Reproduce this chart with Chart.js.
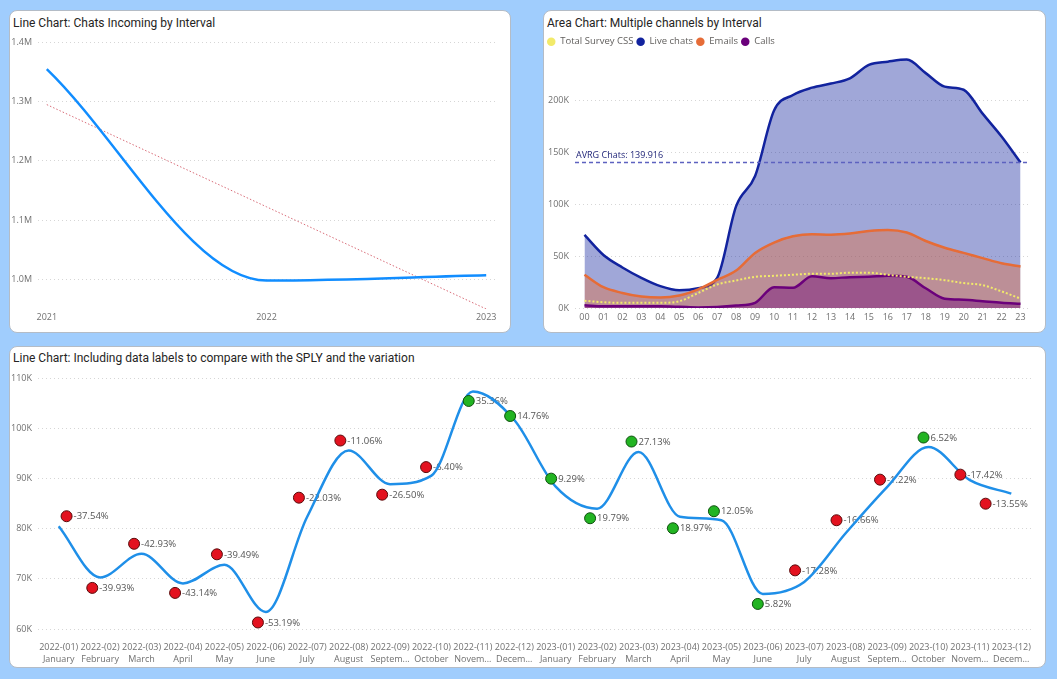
<!DOCTYPE html>
<html>
<head>
<meta charset="utf-8">
<title>Chats - painel</title>
<script src="https://cdn.jsdelivr.net/npm/chart.js@4.4.0/dist/chart.umd.min.js"></script>
<style>
  body { margin:0; background:#a0cdfd; width:1057px; height:679px; overflow:hidden; }
  .painel { position:absolute; background:#fff; border:1px solid #b4bcc6; border-radius:8px; box-sizing:border-box; }
  .titulo { position:absolute; left:3px; top:5px; font-family:Roboto, "DejaVu Sans", sans-serif; font-size:12px; color:#252423; white-space:nowrap; }
  .caixa { position:absolute; left:0; top:20px; }
</style>
</head>
<body>

<div class="painel" style="left:9px;top:10px;width:502px;height:323px;">
  <div class="titulo">Line Chart: Chats Incoming by Interval</div>
  <div class="caixa" style="width:500px;height:300px;"><canvas id="graf1"></canvas></div>
</div>

<div class="painel" style="left:543px;top:10px;width:503px;height:323px;">
  <div class="titulo">Area Chart: Multiple channels by Interval</div>
  <div class="caixa" style="width:501px;height:300px;"><canvas id="graf2"></canvas></div>
</div>

<div class="painel" style="left:9px;top:346px;width:1037px;height:322px;">
  <div class="titulo" style="top:4px">Line Chart: Including data labels to compare with the SPLY and the variation</div>
  <div class="caixa" style="width:1035px;height:300px;"><canvas id="graf3"></canvas></div>
</div>

<script>
// ---- dados grafico 1 (por ano)
var anos = [2021, 2022, 2023];
var chatsAno = [1355000, 998000, 1007000];
var tendencia = [1295000, 1122500, 950000];
var ticksAno = [1000000, 1100000, 1200000, 1300000, 1400000];

// ---- dados grafico 2 (por hora)
var horas = ['00','01','02','03','04','05','06','07','08','09','10','11','12','13','14','15','16','17','18','19','20','21','22','23'];
var surveyCSS = [7000, 5500, 5000, 5000, 5000, 6500, 14500, 22600, 26500, 30000, 31000, 32000, 33000, 33000, 34000, 34000, 32000, 30000, 28700, 26800, 24000, 22000, 16000, 9000];
var liveChats = [70300, 51000, 39000, 29000, 21000, 17000, 19000, 29000, 98000, 127000, 190000, 205000, 212000, 216000, 221000, 234000, 237000, 239000, 226000, 213000, 210000, 187000, 165000, 140000];
var emails = [32000, 20000, 14500, 11000, 10000, 12000, 18000, 27000, 36000, 53000, 63000, 69000, 71000, 70600, 71600, 74000, 75000, 72600, 64500, 58000, 53000, 48000, 43000, 40000];
var calls = [2600, 1600, 1600, 1600, 1600, 1200, 600, 1000, 2300, 5000, 20000, 19400, 30600, 28700, 29700, 30000, 31000, 30000, 19000, 9000, 8000, 6500, 5000, 4000];
var mediaChats = 139916;
var ticksHora = [0, 50000, 100000, 150000, 200000];

// ---- dados grafico 3 (por mes)
var periodos = ['2022-(01)','2022-(02)','2022-(03)','2022-(04)','2022-(05)','2022-(06)','2022-(07)','2022-(08)','2022-(09)','2022-(10)','2022-(11)','2022-(12)',
                '2023-(01)','2023-(02)','2023-(03)','2023-(04)','2023-(05)','2023-(06)','2023-(07)','2023-(08)','2023-(09)','2023-(10)','2023-(11)','2023-(12)'];
var meses = ['January','February','March','April','May','June','July','August','Septem...','October','Novem...','Decem...',
             'January','February','March','April','May','June','July','August','Septem...','October','Novem...','Decem...'];
var chatsMes = [80500, 70300, 75000, 69100, 72800, 63400, 82400, 95600, 88900, 90600, 107400, 101700, 88400, 84000, 95300, 82400, 81700, 67000, 69400, 79100, 88300, 96300, 89700, 87000];
var sply = [82500, 68200, 77000, 67200, 74900, 61300, 86200, 97600, 86800, 92300, 105500, 102500, 90000, 82100, 97400, 80100, 83500, 65000, 71700, 81700, 89800, 98200, 90800, 85000];
var variacao = [-37.54, -39.93, -42.93, -43.14, -39.49, -53.19, -22.03, -11.06, -26.50, -6.40, 35.36, 14.76, 9.29, 19.79, 27.13, 18.97, 12.05, 5.82, -17.28, -16.66, -1.22, 6.52, -17.42, -13.55];
// posicao dos marcadores (em meses) - o visual de cima nao bate certinho com as categorias
var posMarcador = [0.19, 0.81, 1.82, 2.81, 3.82, 4.81, 5.80, 6.80, 7.81, 8.87, 9.90, 10.90, 11.89, 12.83, 13.83, 14.83, 15.82, 16.88, 17.78, 18.78, 19.83, 20.88, 21.77, 22.38];
var ticksMes = [60000, 70000, 80000, 90000, 100000, 110000];

var fonte = "'Segoe UI', 'Open Sans', sans-serif";
Chart.defaults.font.family = fonte;
Chart.defaults.font.size = 9;
Chart.defaults.color = '#707070';
Chart.defaults.animation = false;

function formataMil(v){
  return Math.round(v).toString().replace(/\B(?=(\d{3})+(?!\d))/g, '.');
}

function eixoY(lista, min, max, largura, fmt){
  return {
    min: min, max: max,
    grid: { color: '#d6d6d6', drawTicks: false, lineWidth: 1 },
    border: { display: false, dash: [1, 3] },
    afterBuildTicks: function(ax){ ax.ticks = lista.map(function(v){ return {value: v}; }); },
    afterFit: function(ax){ ax.width = largura; },
    ticks: { padding: 6, callback: fmt }
  };
}

// ---------- grafico 1
new Chart(document.getElementById('graf1'), {
  type: 'line',
  data: {
    datasets: [{
      label: 'Chats',
      data: anos.map(function(a, i){ return {x: a, y: chatsAno[i]}; }),
      borderColor: '#118DFF', borderWidth: 2.5, pointRadius: 0,
      cubicInterpolationMode: 'monotone', order: 0
    }, {
      label: 'Tendencia',
      data: anos.map(function(a, i){ return {x: a, y: tendencia[i]}; }),
      borderColor: '#d86c78', borderWidth: 1, borderDash: [1.5, 2], pointRadius: 0, order: 1
    }]
  },
  options: {
    responsive: true, maintainAspectRatio: false,
    layout: { padding: { left: 0, top: 8, right: 15, bottom: 0 } },
    plugins: { legend: { display: false }, tooltip: { enabled: false } },
    scales: {
      x: {
        type: 'linear', min: 2020.96, max: 2023.04,
        grid: { display: false, drawTicks: false }, border: { display: false },
        afterBuildTicks: function(ax){ ax.ticks = anos.map(function(v){ return {value: v}; }); },
        afterFit: function(ax){ ax.height = 22; },
        ticks: { padding: 3, maxRotation: 0, callback: function(v){ return String(v); } }
      },
      y: eixoY(ticksAno, 950000, 1400000, 28, function(v){ return (v / 1000000).toFixed(1) + 'M'; })
    }
  }
});

// ---------- grafico 2
var linhaMedia = {
  id: 'linhaMedia',
  afterDatasetsDraw: function(chart){
    var ctx = chart.ctx, area = chart.chartArea;
    var y = chart.scales.y.getPixelForValue(mediaChats);
    ctx.save();
    ctx.strokeStyle = '#5d62c0';
    ctx.lineWidth = 1.5;
    ctx.setLineDash([4, 3]);
    ctx.beginPath(); ctx.moveTo(area.left, y); ctx.lineTo(area.right, y); ctx.stroke();
    ctx.fillStyle = '#23287a';
    ctx.font = '9px ' + fonte;
    ctx.textBaseline = 'bottom';
    ctx.fillText('AVRG Chats: ' + formataMil(mediaChats), area.left + 1, y - 3);
    ctx.restore();
  }
};

function serieArea(nome, valores, cor, fundo, ordem){
  return {
    label: nome, data: valores, borderColor: cor, backgroundColor: fundo,
    fill: 'origin', borderWidth: 2.5, pointRadius: 0,
    cubicInterpolationMode: 'monotone', order: ordem
  };
}

new Chart(document.getElementById('graf2'), {
  type: 'line',
  data: {
    labels: horas,
    datasets: [
      { label: 'Total Survey CSS', data: surveyCSS, borderColor: '#f2ea6a', backgroundColor: '#f2ea6a',
        borderDash: [2, 2], borderWidth: 2, pointRadius: 0, fill: false,
        cubicInterpolationMode: 'monotone', order: 1 },
      serieArea('Live chats', liveChats, '#12239E', 'rgba(18,35,158,0.4)', 4),
      serieArea('Emails', emails, '#E66C37', 'rgba(230,108,55,0.4)', 3),
      serieArea('Calls', calls, '#6B007B', 'rgba(107,0,123,0.4)', 2)
    ]
  },
  options: {
    responsive: true, maintainAspectRatio: false,
    layout: { padding: { left: 0, top: 3, right: 15, bottom: 0 } },
    plugins: {
      tooltip: { enabled: false },
      legend: {
        position: 'top', align: 'start',
        labels: {
          usePointStyle: true, pointStyle: 'circle', boxHeight: 6, pointStyleWidth: 8.5,
          padding: 3, color: '#605e5c', font: { size: 9.5 },
          sort: function(a, b){ return a.datasetIndex - b.datasetIndex; },
          generateLabels: function(chart){
            var itens = Chart.defaults.plugins.legend.labels.generateLabels(chart);
            itens.forEach(function(it){ it.fillStyle = it.strokeStyle; it.lineWidth = 0; it.lineDash = []; });
            return itens;
          }
        }
      }
    },
    scales: {
      x: {
        offset: true,
        grid: { display: false, drawTicks: false }, border: { display: false },
        afterFit: function(ax){ ax.height = 23; },
        ticks: { padding: 4, maxRotation: 0, autoSkip: false }
      },
      y: eixoY(ticksHora, 0, 242000, 31, function(v){ return (v / 1000) + 'K'; })
    }
  },
  plugins: [linhaMedia]
});

// ---------- grafico 3
var rotulos = {
  id: 'rotulos',
  beforeDatasetsDraw: function(chart){
    var ctx = chart.ctx;
    var meta = chart.getDatasetMeta(1);
    ctx.save();
    ctx.font = '9.5px ' + fonte;
    ctx.fillStyle = '#555555';
    ctx.textBaseline = 'middle';
    ctx.textAlign = 'left';
    meta.data.forEach(function(pt, i){
      ctx.fillText(variacao[i].toFixed(2) + '%', pt.x + 7, pt.y + 0.5);
    });
    ctx.restore();
  }
};

new Chart(document.getElementById('graf3'), {
  type: 'line',
  data: {
    labels: periodos.map(function(p, i){ return [p, meses[i]]; }),
    datasets: [{
      label: 'Chats',
      data: chatsMes,
      borderColor: '#1f8fe8', borderWidth: 2.5, pointRadius: 0,
      cubicInterpolationMode: 'monotone', order: 1
    }, {
      label: 'SPLY',
      xAxisID: 'xm',
      data: posMarcador.map(function(p, i){ return {x: p, y: sply[i]}; }),
      showLine: false,
      pointRadius: 5.5, pointBorderWidth: 1,
      pointBackgroundColor: variacao.map(function(v){ return v < 0 ? '#e3121f' : '#22b422'; }),
      pointBorderColor: variacao.map(function(v){ return v < 0 ? '#5a0b0b' : '#0d500d'; }),
      order: 0
    }]
  },
  options: {
    responsive: true, maintainAspectRatio: false,
    layout: { padding: { left: 0, top: 7, right: 13, bottom: 0 } },
    plugins: { legend: { display: false }, tooltip: { enabled: false } },
    scales: {
      x: {
        offset: true,
        grid: { display: false, drawTicks: false }, border: { display: false },
        afterFit: function(ax){ ax.height = 38; },
        ticks: { padding: 12, maxRotation: 0, autoSkip: false, font: { size: 9, lineHeight: 1.33 } }
      },
      xm: { type: 'linear', display: false, min: -0.5, max: 23.5 },
      y: eixoY(ticksMes, 60000, 110000, 28, function(v){ return (v / 1000) + 'K'; })
    }
  },
  plugins: [rotulos]
});
</script>
</body>
</html>
